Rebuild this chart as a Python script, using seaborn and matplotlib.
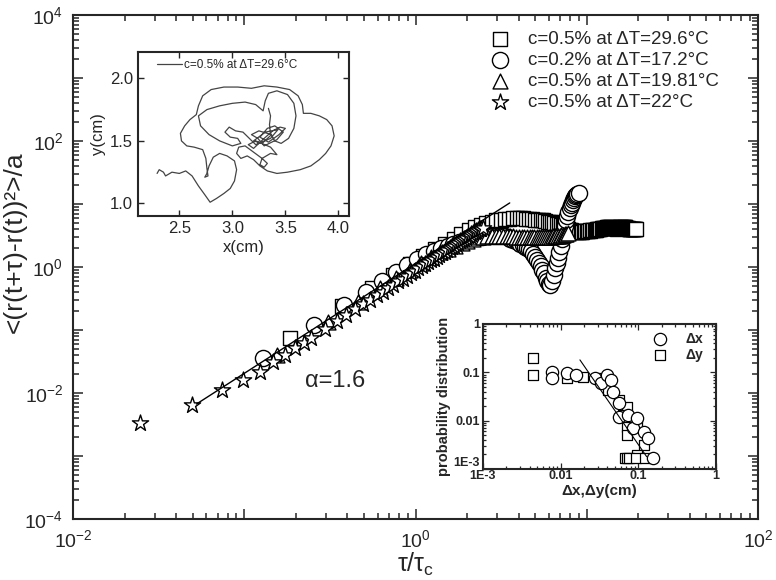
import numpy as np
import pandas as pd
import matplotlib
matplotlib.use("Agg")
import matplotlib.pyplot as plt
import seaborn as sns
from matplotlib.ticker import LogLocator, FuncFormatter, NullFormatter, MultipleLocator, FixedLocator

# ---------------- main panel data ----------------
series_labels = ["c=0.5% at \u0394T=29.6\u00b0C", "c=0.2% at \u0394T=17.2\u00b0C",
                 "c=0.5% at \u0394T=19.81\u00b0C", "c=0.5% at \u0394T=22\u00b0C"]

sq_tau = [0.185, 0.370, 0.555, 0.740, 0.925, 1.11, 1.30, 1.48, 1.67, 1.85, 2.04, 2.22, 2.41, 2.59, 2.78,
          2.96, 3.15, 3.33, 3.52, 3.70, 3.89, 4.07, 4.26, 4.44, 4.63, 4.81, 5.00, 5.18, 5.37, 5.55, 5.74,
          5.92, 6.11, 6.29, 6.48, 6.66, 6.85, 7.03, 7.22, 7.40,
          7.59, 7.77, 7.96, 8.14, 8.33, 8.51, 8.70, 8.88, 9.07, 9.25, 9.44, 9.62, 9.81, 9.99, 10.2, 10.4,
          10.5, 10.7, 10.9, 11.1, 11.3, 11.5, 11.7, 11.8, 12.0, 12.2, 12.4, 12.6, 12.8, 13.0, 13.1, 13.3,
          13.5, 13.7, 13.9, 14.1, 14.2, 14.4, 14.6, 14.8, 15.0, 15.2, 15.4, 15.5, 15.7, 15.9, 16.1, 16.3,
          16.5, 16.7, 16.8, 17.0, 17.2, 17.4, 17.6, 17.8, 17.9, 18.1, 18.3, 18.5, 18.7, 18.9, 19.1, 19.2,
          19.4]
sq_msd = [0.0741, 0.240, 0.468, 0.759, 1.10, 1.48, 1.91, 2.34, 2.82, 3.31, 3.80, 4.27, 4.68, 5.01, 5.25,
          5.50, 5.62, 5.75, 5.75, 5.89, 5.89, 5.89, 5.89, 5.75, 5.75, 5.75, 5.62, 5.62, 5.50, 5.50, 5.37,
          5.25, 5.25, 5.13, 5.01, 4.90, 4.79, 4.68, 4.47, 4.27,
          4.07, 3.98, 3.89, 3.80, 3.72, 3.67, 3.63, 3.63, 3.63, 3.63, 3.63, 3.67, 3.72, 3.72, 3.72, 3.76,
          3.80, 3.80, 3.80, 3.85, 3.89, 3.94, 3.98, 4.02, 4.07, 4.12, 4.17, 4.17, 4.17, 4.22, 4.27, 4.27,
          4.27, 4.27, 4.27, 4.22, 4.17, 4.17, 4.17, 4.12, 4.07, 4.12, 4.17, 4.22, 4.27, 4.32, 4.37, 4.37,
          4.37, 4.32, 4.27, 4.22, 4.17, 4.12, 4.07, 4.02, 3.98, 3.98, 3.98, 3.98, 3.98, 3.98, 3.98, 3.98,
          3.98]

circ_tau = [0.128, 0.256, 0.384, 0.512, 0.640, 0.768, 0.896, 1.02, 1.15, 1.28, 1.41, 1.54, 1.66, 1.79,
            1.92, 2.05, 2.18, 2.30, 2.43, 2.56, 2.69, 2.82, 2.94, 3.07, 3.20, 3.33, 3.46, 3.58, 3.71, 3.84,
            3.97, 4.10, 4.22, 4.35, 4.48, 4.61, 4.74, 4.86, 4.99, 5.12, 5.25, 5.38, 5.50, 5.63, 5.76, 5.89,
            6.02, 6.14, 6.27, 6.40, 6.53, 6.66, 6.78, 6.91, 7.04, 7.17, 7.30, 7.42, 7.55, 7.68, 7.81, 7.94,
            8.06, 8.19, 8.32, 8.45, 8.58, 8.70, 8.83, 8.96]
circ_msd = [0.0355, 0.120, 0.245, 0.407, 0.603, 0.832, 1.07, 1.32, 1.58, 1.78, 2.00, 2.19, 2.34, 2.51,
            2.63, 2.75, 2.88, 2.95, 3.02, 3.09, 3.16, 3.16, 3.16, 3.16, 3.16, 3.09, 2.95, 2.82, 2.69, 2.57,
            2.45, 2.34, 2.24, 2.09, 2.00, 1.91, 1.78, 1.62, 1.45, 1.29, 1.15, 1.02, 0.912, 0.794, 0.676,
            0.589, 0.537, 0.525, 0.603, 0.759, 0.955, 1.17, 1.41, 1.74, 2.19, 2.82, 3.63, 4.47, 5.50, 6.46,
            7.41, 8.51, 9.55, 10.5, 11.5, 12.3, 13.2, 13.8, 14.5, 15.0]

tri_tau = [0.155, 0.309, 0.464, 0.618, 0.773, 0.928, 1.08, 1.24, 1.39, 1.55, 1.70, 1.86, 2.01, 2.16,
           2.32, 2.47, 2.63, 2.78, 2.94, 3.09, 3.25, 3.40, 3.56, 3.71, 3.87, 4.02, 4.17, 4.33, 4.48, 4.64,
           4.79, 4.95, 5.10, 5.26, 5.41, 5.57, 5.72, 5.87, 6.03, 6.18, 6.34, 6.49, 6.65, 6.80, 6.96, 7.11,
           7.27, 7.42, 7.58, 7.73]
tri_msd = [0.0398, 0.135, 0.275, 0.457, 0.676, 0.912, 1.17, 1.45, 1.70, 1.95, 2.19, 2.40, 2.63, 2.82,
           2.95, 3.02, 3.09, 3.09, 3.09, 3.16, 3.16, 3.16, 3.09, 3.09, 3.02, 3.02, 3.02, 3.02, 2.95, 2.95,
           2.95, 2.95, 2.95, 2.95, 2.95, 2.95, 3.02, 3.02, 3.02, 3.02, 3.09, 3.09, 3.09, 3.16, 3.16, 3.24,
           3.24, 3.31, 3.39, 3.47]

star_tau = [0.0247, 0.0494, 0.0741, 0.0988, 0.124, 0.148, 0.173, 0.198, 0.222, 0.247, 0.296, 0.346,
            0.395, 0.445, 0.494, 0.543, 0.593, 0.642, 0.692, 0.741, 0.790, 0.840, 0.889, 0.939, 0.988,
            1.04, 1.09, 1.14, 1.19, 1.24, 1.28, 1.33, 1.38, 1.43, 1.48, 1.53, 1.58, 1.63, 1.68, 1.73,
            1.78, 1.83, 1.88, 1.93, 1.98, 2.03, 2.07, 2.12, 2.17, 2.22, 2.27, 2.32, 2.37, 2.42, 2.47]
star_msd = [0.00334, 0.00646, 0.0112, 0.0161, 0.0215, 0.0309, 0.0407, 0.0513, 0.0631, 0.0759, 0.105,
            0.138, 0.174, 0.214, 0.257, 0.304, 0.355, 0.407, 0.468, 0.524, 0.589, 0.652, 0.724, 0.793,
            0.871, 0.948, 1.02, 1.11, 1.20, 1.29, 1.36, 1.46, 1.55, 1.66, 1.76, 1.87, 2.00, 2.08, 2.19,
            2.32, 2.43, 2.55, 2.69, 2.80, 2.92, 3.05, 3.16, 3.31, 3.43, 3.59, 3.72, 3.87, 3.98, 4.07, 4.17]

fit_tau = [0.0526, 3.55]
fit_msd = [0.00668, 10.4]
alpha_text = "\u03b1=1.6"

# ---------------- inset 1: trajectory ----------------
traj_x = [2.29, 2.31, 2.35, 2.37, 2.43, 2.50, 2.56, 2.62, 2.68, 2.74, 2.79, 2.85, 2.92, 2.98, 3.02, 3.04,
          3.02, 2.95, 2.88, 2.82, 2.78, 2.76, 2.74, 2.77, 2.76, 2.75, 2.72, 2.64, 2.57, 2.52, 2.51, 2.55,
          2.60, 2.66, 2.68, 2.72, 2.80, 2.92, 3.05, 3.18, 3.30, 3.42, 3.54, 3.62, 3.66, 3.67, 3.74, 3.82,
          3.89, 3.94, 3.96, 3.93, 3.88, 3.82, 3.74, 3.64, 3.52, 3.42, 3.33, 3.26, 3.20, 3.14, 3.08, 3.04,
          3.06, 3.12, 3.20, 3.28, 3.33, 3.30, 3.26, 3.28, 3.36, 3.42, 3.36, 3.22, 3.15, 3.20, 3.30, 3.38,
          3.45, 3.50, 3.44, 3.34, 3.26, 3.33, 3.40, 3.48, 3.42, 3.30, 3.24, 3.18,
          3.25, 3.37, 3.28, 3.20, 3.31, 3.43, 3.36, 3.22, 3.16,
          3.10, 3.03, 2.97, 2.93,
          2.98, 3.05, 3.08, 3.00, 2.88, 2.78, 2.70, 2.68, 2.76, 2.88, 3.00, 3.12, 3.22, 3.29, 3.31, 3.34,
          3.42, 3.52, 3.58, 3.60, 3.58, 3.53, 3.46, 3.40, 3.36, 3.35, 3.36, 3.34]
traj_y = [1.24, 1.27, 1.25, 1.22, 1.25, 1.24, 1.26, 1.22, 1.14, 1.07, 1.01, 1.04, 1.08, 1.12, 1.18, 1.27,
          1.34, 1.38, 1.40, 1.37, 1.30, 1.24, 1.21, 1.22, 1.28, 1.36, 1.43, 1.45, 1.46, 1.50, 1.56, 1.62,
          1.67, 1.71, 1.78, 1.86, 1.91, 1.93, 1.93, 1.92, 1.94, 1.93, 1.91, 1.86, 1.79, 1.72, 1.72, 1.70,
          1.67, 1.62, 1.54, 1.46, 1.40, 1.35, 1.30, 1.27, 1.25, 1.24, 1.26, 1.30, 1.35, 1.38, 1.36, 1.40,
          1.45, 1.46, 1.41, 1.36, 1.32, 1.29, 1.31, 1.36, 1.40, 1.39, 1.45, 1.50, 1.47, 1.44, 1.52, 1.58,
          1.61, 1.60, 1.55, 1.49, 1.53, 1.60, 1.62, 1.57, 1.51, 1.46, 1.52, 1.55,
          1.58, 1.55, 1.48, 1.50, 1.57, 1.59, 1.52, 1.47, 1.52,
          1.57, 1.58, 1.61, 1.57,
          1.53, 1.52, 1.48, 1.46, 1.50, 1.55, 1.62, 1.70, 1.75, 1.78, 1.80, 1.81, 1.79, 1.74, 1.82, 1.88,
          1.90, 1.87, 1.80, 1.70, 1.60, 1.52, 1.48, 1.50, 1.56, 1.63, 1.70, 1.76]
traj_label = "c=0.5% at \u0394T=29.6\u00b0C"

# ---------------- inset 2: probability distribution ----------------
dx_val = [0.00766, 0.00766, 0.0119, 0.0156, 0.0273, 0.0333, 0.039, 0.0447, 0.0468, 0.0566, 0.0566,
          0.074, 0.085, 0.095, 0.12, 0.132, 0.155]
dx_prob = [0.1035, 0.0755, 0.0957, 0.0883, 0.0755, 0.0594, 0.0883, 0.0697, 0.0398, 0.0229, 0.0121,
           0.0131, 0.00697, 0.0112, 0.0059, 0.0043, 0.00165]
dy_val = [0.00444, 0.00444, 0.0119, 0.0195, 0.0321, 0.041, 0.0557, 0.0713, 0.063, 0.0713, 0.095, 0.0713,
          0.12, 0.095, 0.067, 0.071, 0.076, 0.093, 0.122]
dy_prob = [0.196, 0.0883, 0.0755, 0.0792, 0.0755, 0.0432, 0.0269, 0.0195, 0.0131, 0.0075, 0.0081, 0.00506,
           0.00314, 0.00195, 0.00165, 0.00165, 0.00165, 0.00165, 0.00165]
pfit_val = [0.0177, 0.128]
pfit_prob = [0.181, 0.0018]

# ---------------- style ----------------
sns.set_theme(style="ticks")
plt.rcParams["font.family"] = ["Liberation Sans", "DejaVu Sans"]
plt.rcParams["mathtext.fontset"] = "custom"
plt.rcParams["mathtext.rm"] = "Liberation Sans"
plt.rcParams["mathtext.it"] = "Liberation Sans:italic"
plt.rcParams["mathtext.bf"] = "Liberation Sans:bold"
plt.rcParams["axes.linewidth"] = 1.5

fig = plt.figure(figsize=(7.76, 5.8), dpi=100)
W, H = 776.0, 580.0

def fax(l, r, t, b):
    return fig.add_axes([l / W, 1 - b / H, (r - l) / W, (b - t) / H])

ax = fax(73, 758, 15, 519)
mk = dict(color="white", edgecolor="black", linewidth=1.0, zorder=3)
sns.scatterplot(x=sq_tau, y=sq_msd, marker="s", s=95, label=series_labels[0], ax=ax, **mk)
sns.scatterplot(x=circ_tau, y=circ_msd, marker="o", s=135, label=series_labels[1], ax=ax, **mk)
sns.scatterplot(x=tri_tau, y=tri_msd, marker="^", s=115, label=series_labels[2], ax=ax, **mk)
sns.scatterplot(x=star_tau, y=star_msd, marker="*", s=150, label=series_labels[3], ax=ax, **mk)
sns.lineplot(x=fit_tau, y=fit_msd, color="black", linewidth=1.0, sort=False, estimator=None, ax=ax,
             zorder=4, legend=False)
ax.set_xscale("log")
ax.set_yscale("log")
ax.set_xlim(1e-2, 1e2)
ax.set_ylim(1e-4, 1e4)

def even_pow(v, pos):
    e = int(round(np.log10(v)))
    return r"$\mathdefault{10^{%d}}$" % e if e % 2 == 0 else ""

for a in (ax.xaxis, ax.yaxis):
    a.set_major_locator(LogLocator(base=10, numticks=100))
    a.set_minor_locator(LogLocator(base=10, subs=np.arange(2, 10), numticks=100))
    a.set_major_formatter(FuncFormatter(even_pow))
    a.set_minor_formatter(NullFormatter())
ax.tick_params(which="both", direction="in", top=True, right=True, width=1.1, labelsize=14)
ax.tick_params(which="major", length=7, pad=7)
ax.tick_params(which="minor", length=4)
ax.set_xlabel("\u03c4/\u03c4$_\\mathrm{c}$", fontsize=18, labelpad=0)
ax.set_ylabel("<(r(t+\u03c4)-r(t))\u00b2>/a", fontsize=19)
ax.yaxis.set_label_coords(-0.068, 0.55)
ax.text(0.225, 0.0155, alpha_text, fontsize=17, ha="left", va="center")

fs = 13.5
leg = ax.legend(loc="upper left", bbox_to_anchor=(0.607, 0.968), frameon=False, fontsize=fs,
                handlelength=1.2, handletextpad=0.9, labelspacing=0.2, borderpad=0, borderaxespad=0,
                scatterpoints=1)

# ---------------- inset 1 ----------------
ax1 = fax(138, 349, 52, 216)
sns.lineplot(x=traj_x, y=traj_y, sort=False, estimator=None, color="#444444", linewidth=0.9,
             label=traj_label, ax=ax1)
ax1.set_xlim(2.11, 4.10)
ax1.set_ylim(0.9, 2.21)
ax1.xaxis.set_major_locator(MultipleLocator(0.5))
ax1.xaxis.set_minor_locator(MultipleLocator(0.25))
ax1.yaxis.set_major_locator(MultipleLocator(0.5))
ax1.yaxis.set_minor_locator(MultipleLocator(0.25))
ax1.xaxis.set_major_formatter(FuncFormatter(lambda v, p: "%.1f" % v))
ax1.yaxis.set_major_formatter(FuncFormatter(lambda v, p: "%.1f" % v))
ax1.tick_params(which="both", direction="in", top=True, right=True, labelsize=12, width=1)
ax1.tick_params(which="major", length=4)
ax1.tick_params(which="minor", length=0)
ax1.set_xlabel("x(cm)", fontsize=12, labelpad=3)
ax1.set_ylabel("y(cm)", fontsize=12, labelpad=3)
ax1.legend(loc="upper left", bbox_to_anchor=(0.09, 0.955), frameon=False, fontsize=8.5,
           handlelength=2.1, handletextpad=0.2, borderpad=0, borderaxespad=0)

# ---------------- inset 2 ----------------
ax2 = fax(483, 716, 324, 469)
mk2 = dict(color="white", edgecolor="black", linewidth=0.9, zorder=3)
sns.scatterplot(x=dy_val, y=dy_prob, marker="s", s=62, label="\u0394y", ax=ax2, **mk2)
sns.scatterplot(x=dx_val, y=dx_prob, marker="o", s=78, label="\u0394x", ax=ax2, **mk2)
sns.lineplot(x=pfit_val, y=pfit_prob, color="black", linewidth=0.8, sort=False, estimator=None, ax=ax2,
             zorder=4, legend=False)
ax2.set_xscale("log")
ax2.set_yscale("log")
ax2.set_xlim(1e-3, 1)
ax2.set_ylim(1e-3, 1)
lab = {-3: "1E-3", -2: "0.01", -1: "0.1", 0: "1"}
for a in (ax2.xaxis, ax2.yaxis):
    a.set_major_locator(FixedLocator([1e-3, 1e-2, 1e-1, 1]))
    a.set_minor_locator(LogLocator(base=10, subs=np.arange(2, 10), numticks=100))
    a.set_major_formatter(FuncFormatter(lambda v, p: lab.get(int(round(np.log10(v))), "")))
    a.set_minor_formatter(NullFormatter())
ax2.tick_params(which="both", direction="in", top=True, right=True, labelsize=9, width=0.9)
ax2.tick_params(axis="x", pad=1)
ax2.tick_params(axis="y", pad=2)
ax2.tick_params(which="major", length=4)
ax2.tick_params(which="minor", length=2)
for t in ax2.get_xticklabels() + ax2.get_yticklabels():
    t.set_fontweight("bold")
ax2.yaxis.get_major_ticks()[0].label1.set_verticalalignment("bottom")
ax2.set_xlabel("\u0394x,\u0394y(cm)", fontsize=11, fontweight="bold", labelpad=1)
ax2.set_ylabel("probability distribution", fontsize=10.5, fontweight="bold", labelpad=2)
h, l = ax2.get_legend_handles_labels()
ax2.legend([h[1], h[0]], [l[1], l[0]], loc="upper left", bbox_to_anchor=(0.73, 0.945), frameon=False,
           prop={"size": 10, "weight": "bold"}, handlelength=1.0, handletextpad=1.3, labelspacing=0.15,
           borderpad=0, borderaxespad=0, scatterpoints=1)

fig.savefig("out.png", dpi=100)
